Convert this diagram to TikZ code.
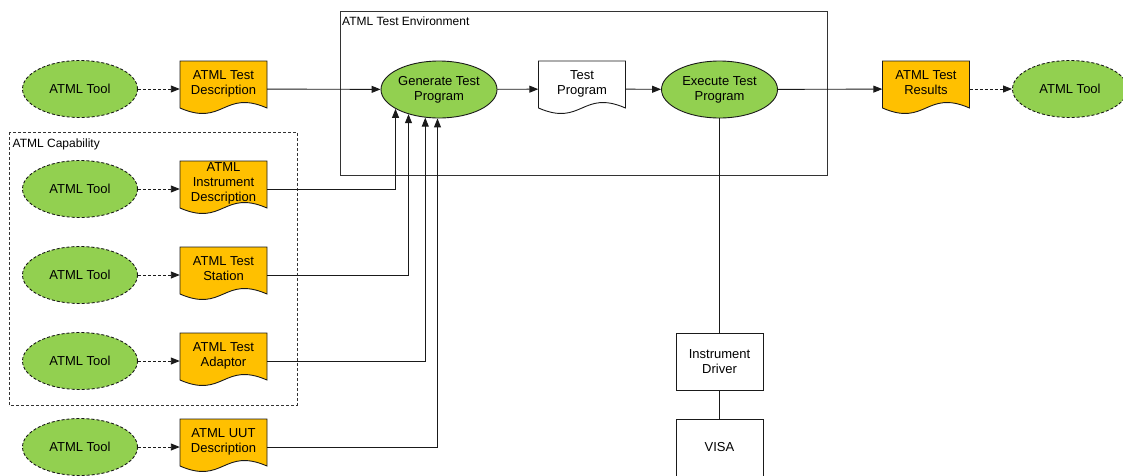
\documentclass[tikz,border=0pt]{standalone}
\usepackage{fontspec}
\setmainfont{Liberation Sans}
\usetikzlibrary{shapes.geometric,arrows.meta}

\definecolor{toolgreen}{HTML}{92D050}
\definecolor{docorange}{HTML}{FFC000}
\definecolor{linec}{HTML}{1A1A1A}
\definecolor{framec}{HTML}{333333}

% text of a document shape sits a little above the shape's middle
\newcommand\docbottom{\\[-6pt]\strut}

\tikzset{
  base/.style={font=\fontsize{13}{15}\selectfont, text=black},
  tool/.style={base, ellipse, draw=linec, fill=toolgreen, line width=0.9pt,
    dash pattern=on 3pt off 2pt, minimum width=115pt, minimum height=57pt, inner sep=0pt},
  process/.style={base, ellipse, draw=linec, fill=toolgreen, line width=0.9pt,
    minimum width=116pt, minimum height=57pt, inner sep=0pt, align=center},
  doctext/.style={base, minimum width=87pt, minimum height=56pt, inner sep=0pt, align=center},
  plainbox/.style={base, draw=linec, fill=white, line width=0.9pt,
    minimum width=87pt, minimum height=57pt, inner sep=0pt, align=center},
  pics/docshape/.style={code={
    \path[pic actions] (-43.5,-28) -- (43.5,-28) -- (43.5,19)
      .. controls (0,0) and (0,38) .. (-43.5,19) -- cycle;}},
  docdraw/.style={draw=linec, line width=0.9pt},
  arr/.style={draw=linec, line width=0.9pt, -{Triangle[length=9pt,width=7pt]}},
  dasharr/.style={arr, dash pattern=on 3pt off 2pt},
  link/.style={draw=linec, line width=0.9pt},
  frame/.style={draw=framec, line width=0.9pt},
  framelabel/.style={font=\fontsize{12}{14}\selectfont, anchor=base west, inner sep=0pt},
}

\begin{document}
\begin{tikzpicture}[x=1pt, y=-1pt]
\useasboundingbox (0,0) rectangle (1123,475);

% group frames
\draw[frame] (340,11) rectangle (827,175);
\node[framelabel] (envlabel) at (342,25.5) {ATML Test Environment};
\draw[frame, dash pattern=on 3pt off 2pt] (9,132) rectangle (297,405);
\node[framelabel] (caplabel) at (12.5,147.5) {ATML Capability};

% tools feeding the description documents
\node[tool] (t1) at (80,89)  {ATML Tool};
\node[tool] (t2) at (80,189) {ATML Tool};
\node[tool] (t3) at (80,275) {ATML Tool};
\node[tool] (t4) at (80,361) {ATML Tool};
\node[tool] (t5) at (80,447) {ATML Tool};

% description documents
\pic[docdraw, fill=docorange] at (223.5,89)  {docshape};
\pic[docdraw, fill=docorange] at (223.5,189) {docshape};
\pic[docdraw, fill=docorange] at (223.5,275) {docshape};
\pic[docdraw, fill=docorange] at (223.5,361) {docshape};
\pic[docdraw, fill=docorange] at (223.5,447) {docshape};
\node[doctext] (d1) at (223.5,89)  {ATML Test\\Description\docbottom};
\node[doctext] (d2) at (223.5,189) {ATML\\Instrument\\Description\docbottom};
\node[doctext] (d3) at (223.5,275) {ATML Test\\Station\docbottom};
\node[doctext] (d4) at (223.5,361) {ATML Test\\Adaptor\docbottom};
\node[doctext] (d5) at (223.5,447) {ATML UUT\\Description\docbottom};

% test environment
\node[process] (gen) at (439,89.5) {Generate Test\\Program};
\pic[docdraw, fill=white] at (582,89) {docshape};
\node[doctext] (tp) at (582,89) {Test\\Program\docbottom};
\node[process] (exe) at (719.5,89.5) {Execute Test\\Program};

% results
\pic[docdraw, fill=docorange] at (926,89) {docshape};
\node[doctext] (res) at (926,89) {ATML Test\\Results\docbottom};
\node[tool] (t6) at (1070,89) {ATML Tool};

% driver stack
\node[plainbox] (drv) at (719.5,362) {Instrument\\Driver};
\node[plainbox] (visa) at (719.5,447.5) {VISA};

% connectors
\draw[dasharr] (t1) -- (d1);
\draw[dasharr] (t2) -- (d2);
\draw[dasharr] (t3) -- (d3);
\draw[dasharr] (t4) -- (d4);
\draw[dasharr] (t5) -- (d5);

\draw[arr] (d1) -- (gen);
\draw[arr] (gen) -- (tp);
\draw[arr] (tp) -- (exe);
\draw[arr] (exe) -- (res);
\draw[dasharr] (res) -- (t6);

\draw[arr] (d2.east) -| (gen.204.7);
\draw[arr] (d3.east) -| (gen.219.5);
\draw[arr] (d4.east) -| (gen.244.4);
\draw[arr] (d5.east) -| (gen.267.4);

\draw[link] (exe) -- (drv);
\draw[link] (drv) -- (visa);
\end{tikzpicture}
\end{document}
